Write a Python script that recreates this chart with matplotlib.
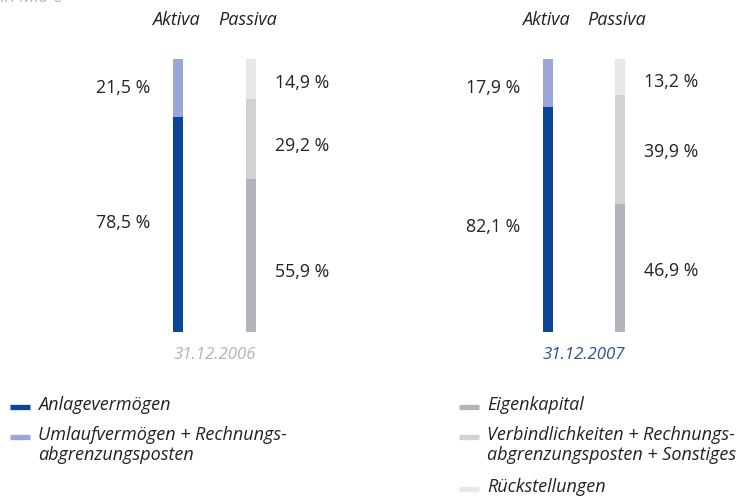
import matplotlib
matplotlib.use("Agg")
import matplotlib.pyplot as plt
from matplotlib.lines import Line2D

plt.rcParams['font.family'] = ['Open Sans', 'DejaVu Sans']

# ---- data ----
dates = ["31.12.2006", "31.12.2007"]
aktiva_anlage = [78.5, 82.1]
aktiva_umlauf = [21.5, 17.9]
passiva_eigen = [55.9, 46.9]
passiva_verb = [29.2, 39.9]
passiva_rueck = [14.9, 13.2]
side_labels = ["Aktiva", "Passiva"]
legend_left = ["Anlagevermögen", "Umlaufvermögen + Rechnungs-\nabgrenzungsposten"]
legend_right = ["Eigenkapital", "Verbindlichkeiten + Rechnungs-\nabgrenzungsposten + Sonstiges", "Rückstellungen"]
unit_label = "in Mio €"

# ---- style ----
c_anlage = "#0b4596"
c_umlauf = "#9aa6d6"
c_eigen = "#b1b5b9"
c_verb = "#d0d3d6"
c_rueck = "#e6e7e8"
txt = "#222222"
date_colors = ["#b0b3b8", "#2a4f9a"]

# label nudges in pixels (positive = down), per group
nudge_anlage = [-1.7, 7.3]
nudge_umlauf = [0.0, 5.5]
nudge_eigen = [16.4, 3.1]
nudge_verb = [7.3, 2.8]
nudge_rueck = [4.1, 5.5]

W, H = 736, 497
fig = plt.figure(figsize=(W / 100, H / 100), dpi=100)

def fx(x):
    return x / W

def fy(y):
    return 1 - y / H

top_px, bot_px = 58.5, 332
ax = fig.add_axes([0, fy(bot_px), 1, (bot_px - top_px) / H])
ax.set_xlim(0, W)
ax.set_ylim(0, 100)
ax.axis("off")
px2data = 100 / (bot_px - top_px)

aktiva_x = [178, 548]
passiva_x = [251, 620]
bw = 10
pct_fs = 12.8

def fmt(v):
    return f"{v:.1f} %".replace(".", ",")

for i in range(2):
    ax.bar(aktiva_x[i], aktiva_anlage[i], width=bw, color=c_anlage)
    ax.bar(aktiva_x[i], aktiva_umlauf[i], width=bw, bottom=aktiva_anlage[i], color=c_umlauf)
    ax.bar(passiva_x[i], passiva_eigen[i], width=bw, color=c_eigen)
    ax.bar(passiva_x[i], passiva_verb[i], width=bw, bottom=passiva_eigen[i], color=c_verb)
    ax.bar(passiva_x[i], passiva_rueck[i], width=bw,
           bottom=passiva_eigen[i] + passiva_verb[i], color=c_rueck)

    # Aktiva labels (left)
    ax.text(aktiva_x[i] - 28, aktiva_anlage[i] / 2 - nudge_anlage[i] * px2data,
            fmt(aktiva_anlage[i]), ha="right", va="center", fontsize=pct_fs, color=txt)
    ax.text(aktiva_x[i] - 28, aktiva_anlage[i] + aktiva_umlauf[i] / 2 - nudge_umlauf[i] * px2data,
            fmt(aktiva_umlauf[i]), ha="right", va="center", fontsize=pct_fs, color=txt)
    # Passiva labels (right)
    ax.text(passiva_x[i] + 24, passiva_eigen[i] / 2 - nudge_eigen[i] * px2data,
            fmt(passiva_eigen[i]), ha="left", va="center", fontsize=pct_fs, color=txt)
    ax.text(passiva_x[i] + 24, passiva_eigen[i] + passiva_verb[i] / 2 - nudge_verb[i] * px2data,
            fmt(passiva_verb[i]), ha="left", va="center", fontsize=pct_fs, color=txt)
    ax.text(passiva_x[i] + 24,
            passiva_eigen[i] + passiva_verb[i] + passiva_rueck[i] / 2 - nudge_rueck[i] * px2data,
            fmt(passiva_rueck[i]), ha="left", va="center", fontsize=pct_fs, color=txt)

    # column headers
    fig.text(fx(aktiva_x[i] - 2), fy(20), side_labels[0], ha="center", va="center",
             fontsize=13, style="italic", color=txt)
    fig.text(fx(passiva_x[i] - 3), fy(20), side_labels[1], ha="center", va="center",
             fontsize=13, style="italic", color=txt)
    # date labels
    fig.text(fx((aktiva_x[i] + passiva_x[i]) / 2), fy(355), dates[i], ha="center", va="center",
             fontsize=12.2, style="italic", color=date_colors[i])

# unit label (cut off at top, as in the original)
fig.text(fx(0), fy(-2), unit_label, ha="left", va="center", fontsize=12, color="#b0b3b8")

# legend
def leg(xm, y, color, label):
    fig.add_artist(Line2D([fx(xm), fx(xm + 20)], [fy(y), fy(y)], color=color, lw=3.8,
                          solid_capstyle="butt"))
    fig.text(fx(xm + 28), fy(y - 11.5), label, ha="left", va="top", fontsize=13,
             style="italic", color=txt, linespacing=1.2)

leg(10, 407, c_anlage, legend_left[0])
leg(10, 437, c_umlauf, legend_left[1])
leg(459, 407, c_eigen, legend_right[0])
leg(459, 437, c_verb, legend_right[1])
leg(459, 489, c_rueck, legend_right[2])

fig.savefig("out.png", dpi=100)
